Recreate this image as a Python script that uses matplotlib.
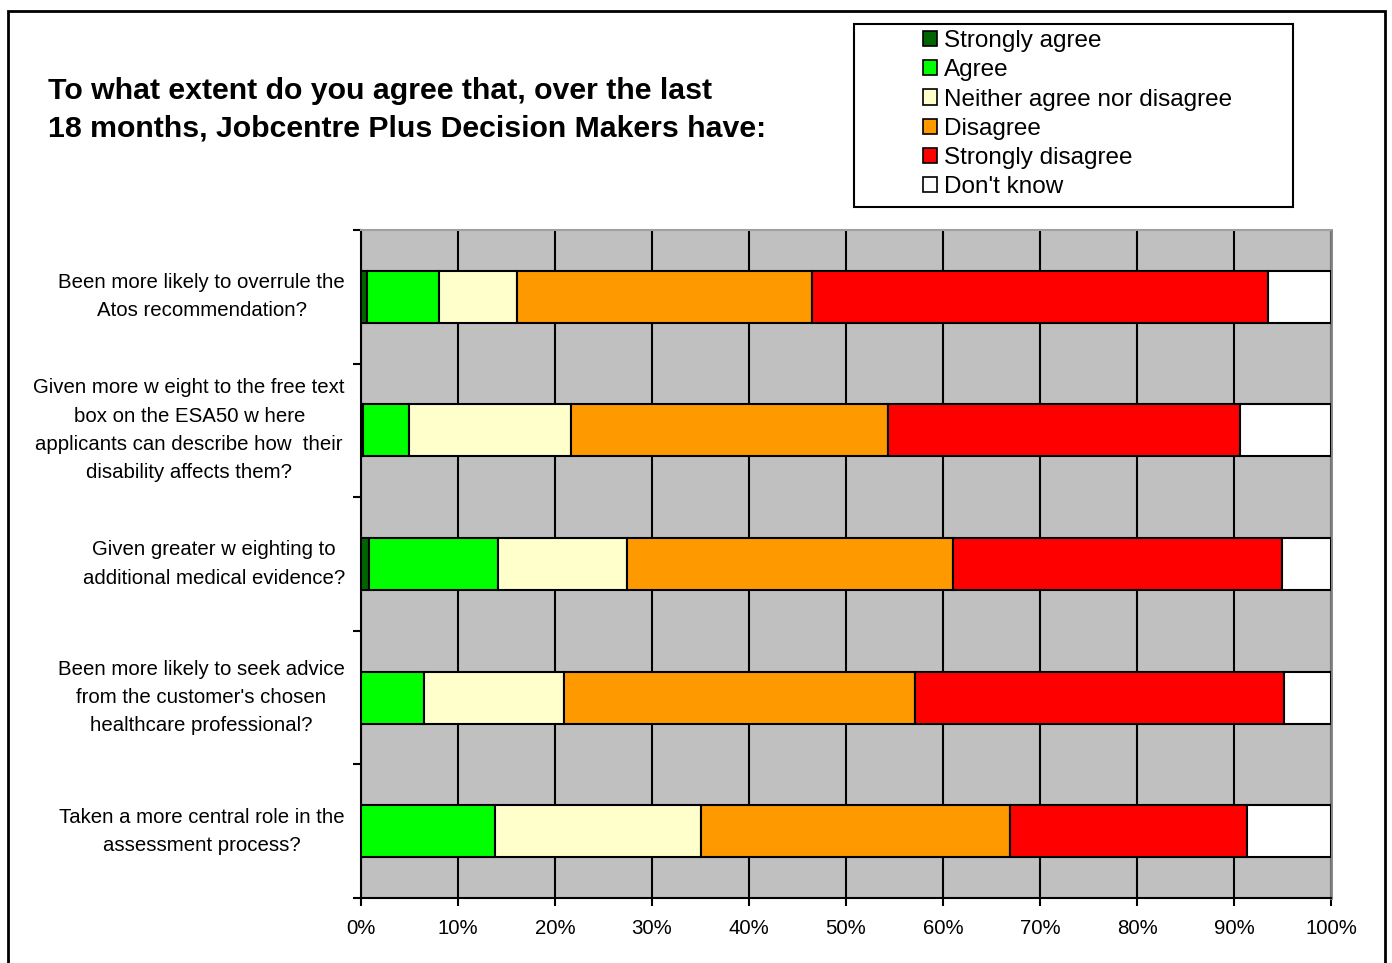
import matplotlib.pyplot as plt
from matplotlib.patches import Rectangle, Patch
from matplotlib.ticker import PercentFormatter
import matplotlib.transforms as mtransforms

plt.rcParams['font.family'] = ['Liberation Sans', 'DejaVu Sans']

questions = [
    "Been more likely to overrule the\nAtos recommendation?",
    "Given more w eight to the free text\nbox on the ESA50 w here\napplicants can describe how  their\ndisability affects them?",
    "Given greater w eighting to\nadditional medical evidence?",
    "Been more likely to seek advice\nfrom the customer's chosen\nhealthcare professional?",
    "Taken a more central role in the\nassessment process?",
]
responses = ["Strongly agree", "Agree", "Neither agree nor disagree",
             "Disagree", "Strongly disagree", "Don't know"]
colors = ["#006400", "#00FF00", "#FFFFCC", "#FF9900", "#FF0000", "#FFFFFF"]

# percentages per response, one value per question (top to bottom)
strongly_agree = [0.6, 0.2, 0.8, 0.0, 0.0]
agree = [7.4, 4.7, 13.3, 6.5, 13.8]
neither = [8.1, 16.7, 13.3, 14.4, 21.3]
disagree = [30.4, 32.7, 33.6, 36.2, 31.8]
strongly_disagree = [47.0, 36.3, 33.9, 38.1, 24.4]
dont_know = [6.5, 9.4, 5.1, 4.8, 8.7]
series = [strongly_agree, agree, neither, disagree, strongly_disagree, dont_know]

fig = plt.figure(figsize=(13.92, 9.63), dpi=100)
ax = fig.add_axes([361 / 1392, 65 / 963, 970 / 1392, 668 / 963])
ax.set_facecolor("#C0C0C0")

ypos = list(range(len(questions)))
left = [0.0] * len(questions)
for vals, col in zip(series, colors):
    ax.barh(ypos, vals, left=left, height=0.39, color=col,
            edgecolor="black", linewidth=1.5, zorder=3)
    left = [l + v for l, v in zip(left, vals)]

ax.set_xlim(0, 100)
ax.set_ylim(len(questions) - 0.5, -0.5)
ax.set_xticks(range(0, 101, 10))
ax.xaxis.set_major_formatter(PercentFormatter(decimals=0))
ax.set_yticks([i - 0.5 for i in range(len(questions) + 1)])
ax.set_yticklabels([])
ax.tick_params(axis="both", direction="out", length=6, width=1.5, color="black")
ax.tick_params(axis="x", labelsize=14.7, pad=9)
ax.grid(axis="x", color="black", linewidth=1.5, zorder=1)
ax.set_axisbelow(True)
for s in ["left", "bottom"]:
    ax.spines[s].set_linewidth(1.5)
    ax.spines[s].set_color("black")
ax.spines["top"].set_color("#A0A0A0")
ax.spines["top"].set_linewidth(1.5)
ax.spines["right"].set_color("#808080")
ax.spines["right"].set_linewidth(2)

trans = mtransforms.blended_transform_factory(ax.transAxes, ax.transData)
for i, q in enumerate(questions):
    ax.text(-0.0165, i, q, transform=trans, ha="right", va="center",
            multialignment="center", fontsize=14.7, linespacing=1.62)

fig.text(48 / 1392, 1 - 110 / 963,
         "To what extent do you agree that, over the last\n18 months, Jobcentre Plus Decision Makers have:",
         ha="left", va="center", fontsize=21.8, fontweight="bold", linespacing=1.42)

# outer frame and legend frame
fig.patches.append(Rectangle((8 / 1392, -0.01), 1377 / 1392, (963 - 11) / 963 + 0.01,
                             transform=fig.transFigure, fill=False,
                             edgecolor="black", linewidth=2))
fig.patches.append(Rectangle((854 / 1392, 1 - 207 / 963), 439 / 1392, 183 / 963,
                             transform=fig.transFigure, fill=False,
                             edgecolor="black", linewidth=1.5))

handles = [Patch(facecolor=c, edgecolor="black", linewidth=1.2) for c in colors]
fig.legend(handles, responses, loc="upper left",
           bbox_to_anchor=(906 / 1392, 1 - 13 / 963), frameon=False,
           fontsize=17.5, handlelength=0.58, handleheight=0.58,
           handletextpad=0.3, labelspacing=0.3, borderpad=0.2)

fig.savefig("out.png", dpi=100)
